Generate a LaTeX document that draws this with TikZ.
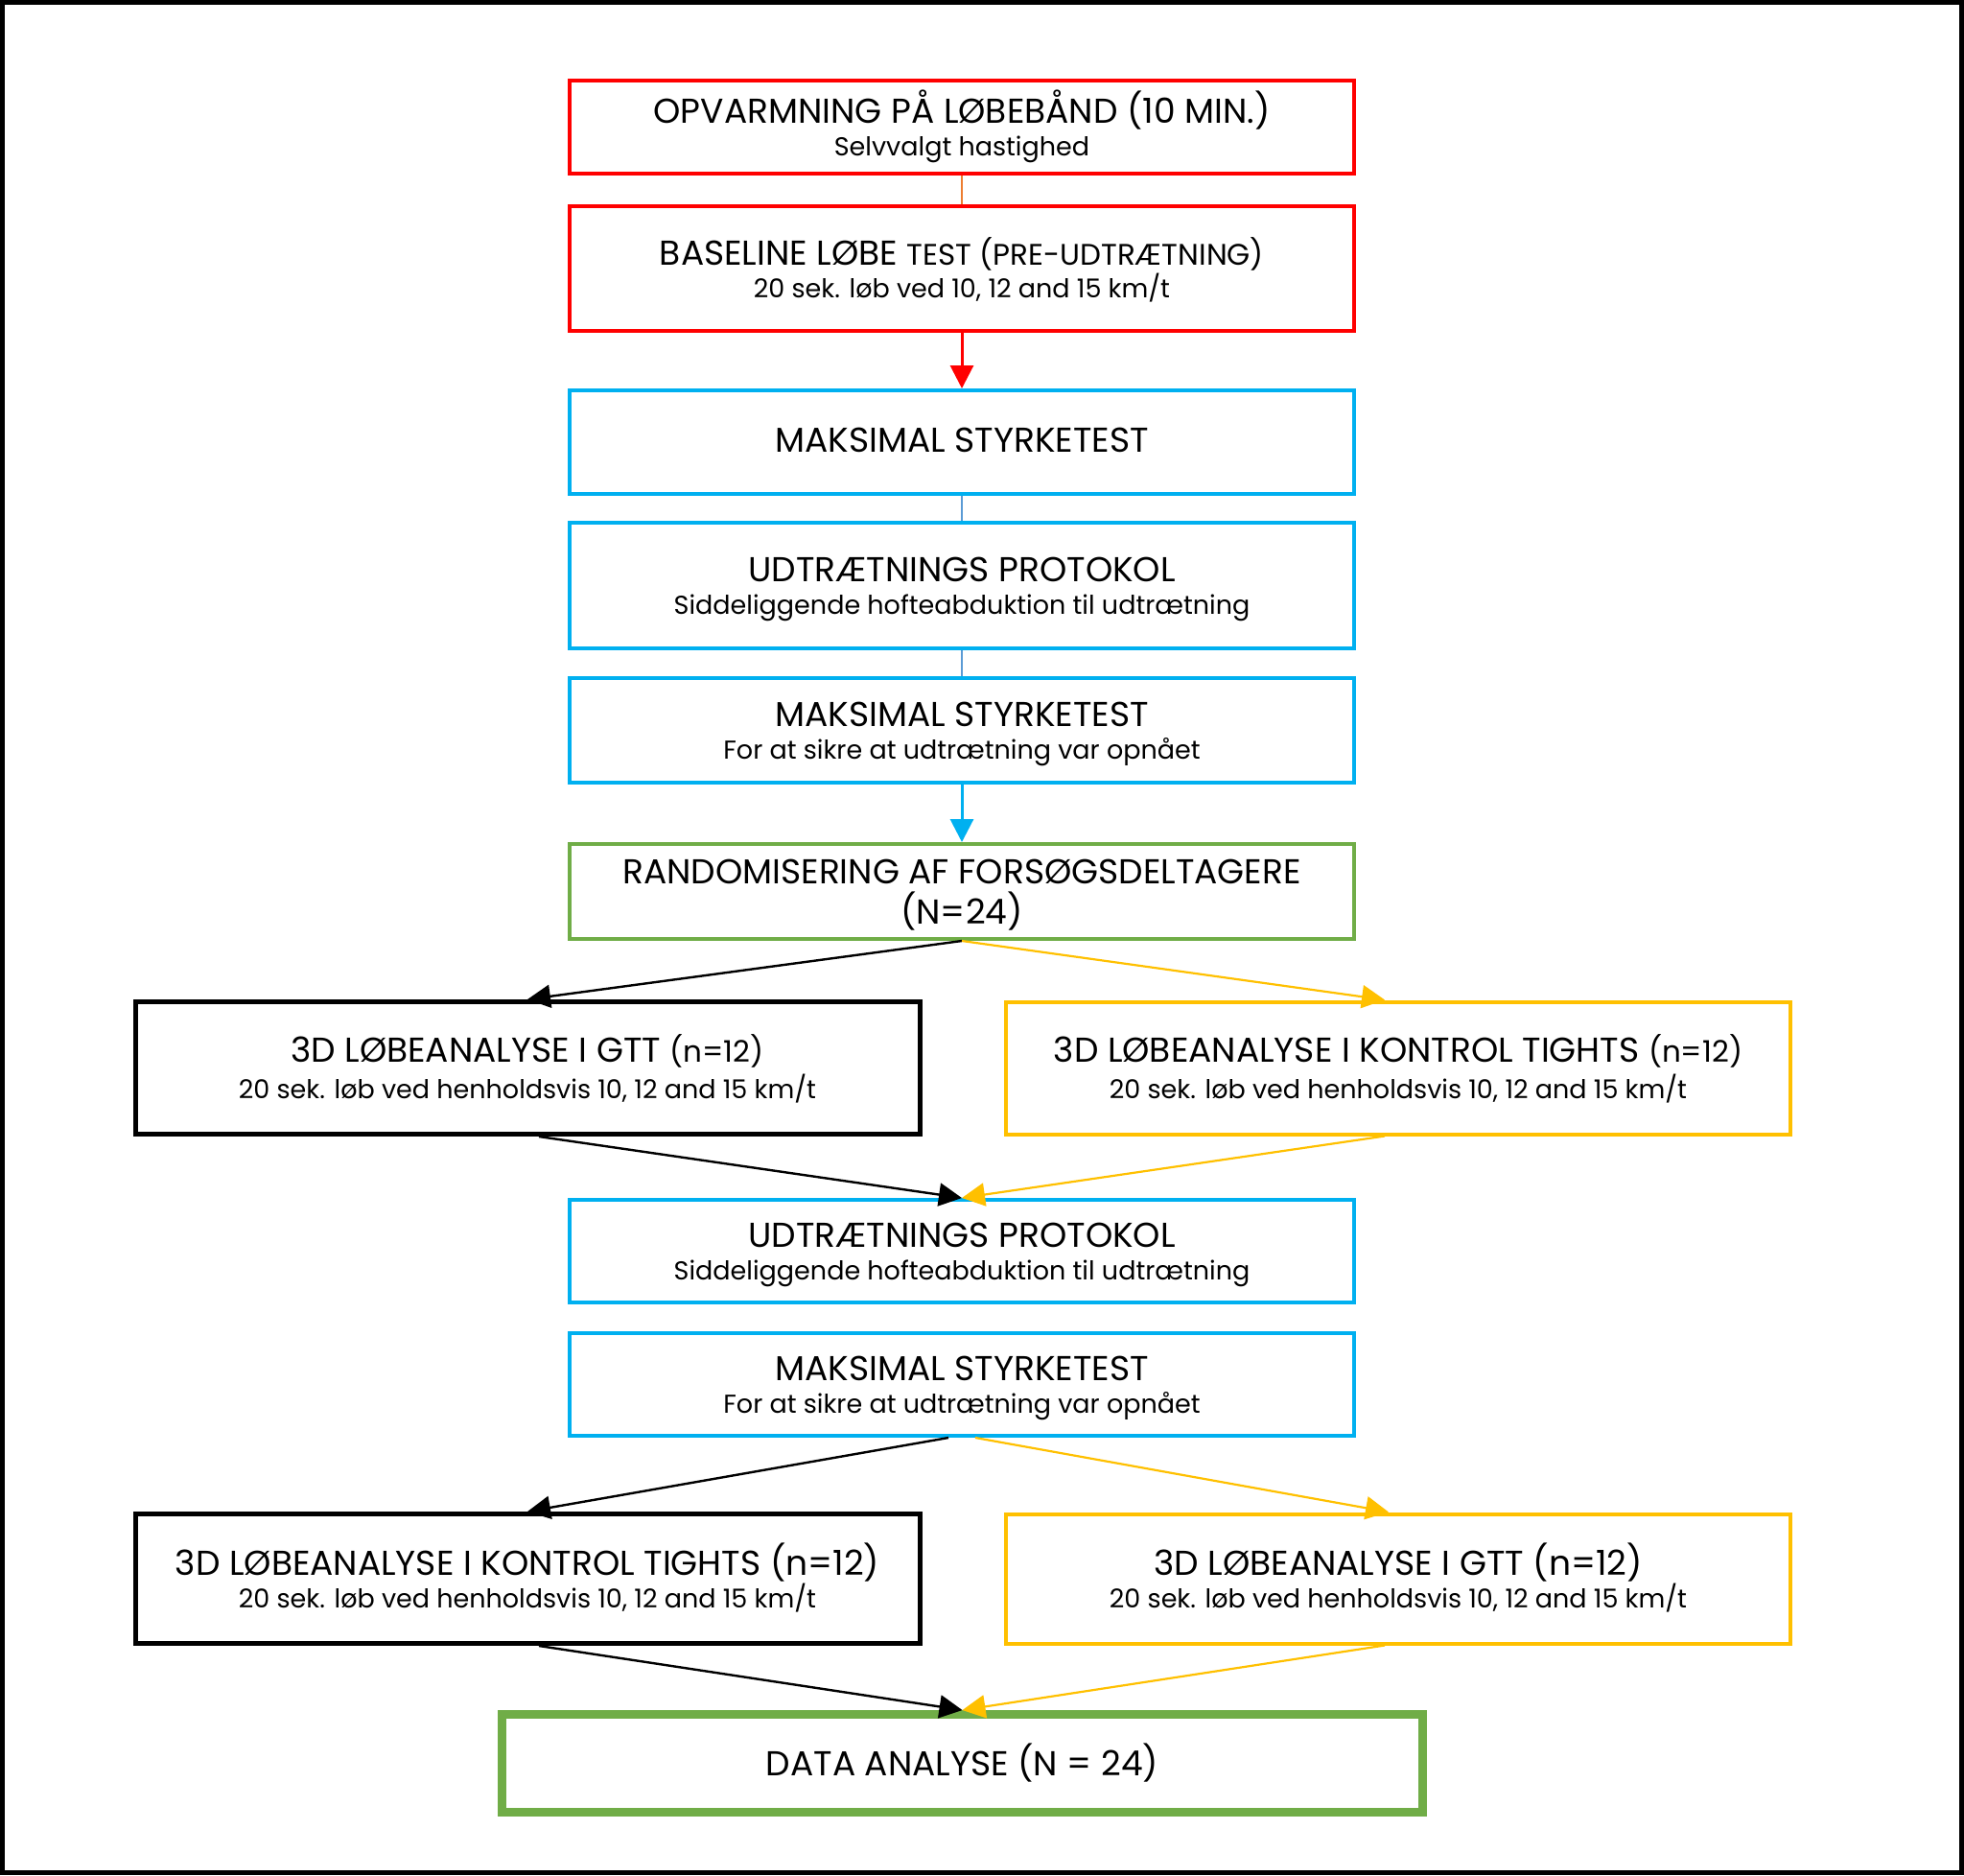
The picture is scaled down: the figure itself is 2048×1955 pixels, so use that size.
\documentclass[tikz,border=0pt]{standalone}
\usepackage{fontspec}
\setmainfont{Poppins}
\usetikzlibrary{arrows.meta,positioning}
\definecolor{flRed}{HTML}{FF0000}
\definecolor{flBlue}{HTML}{00B0F0}
\definecolor{flSteel}{HTML}{5B9BD5}
\definecolor{flOrange}{HTML}{ED7D31}
\definecolor{flGreen}{HTML}{70AD47}
\definecolor{flGold}{HTML}{FFC000}
\newcommand{\subline}{\fontsize{13.5}{15}\selectfont}
\newcommand{\minorcaps}{\fontsize{15.5}{17}\selectfont}
\tikzset{
 flow/.style={x=.5pt,y=-.5pt,font=\fontsize{18}{17}\selectfont},
 stepbox/.style={rectangle,draw,fill=white,align=center,inner sep=0pt,minimum width=409pt,
   line width=2pt,text height=30pt,text depth=0pt},
 oneline/.style={text height=10.6pt},
 redbox/.style={stepbox,draw=flRed},
 bluebox/.style={stepbox,draw=flBlue},
 greenbox/.style={stepbox,draw=flGreen},
 blackbox/.style={stepbox,draw=black,line width=2.5pt},
 goldbox/.style={stepbox,draw=flGold},
 tip/.style={-{Triangle[length=12pt,width=12pt]}},
 linkline/.style={line width=.8pt},
 blackarrow/.style={tip,draw=black,line width=1.2pt},
 goldarrow/.style={tip,draw=flGold,line width=1.1pt}
}

\begin{document}
\begin{tikzpicture}[flow]
 \useasboundingbox (0,0) rectangle (2048,1955);
 \draw[line width=2.5pt] (2.5,2.5) rectangle (2045.5,1952.5);
 \node[redbox,minimum height=48.5pt] (warmup) at (1003,132.5)
  {OPVARMNING PÅ LØBEBÅND (10 MIN.)\\{\subline Selvvalgt hastighed}};
 \node[redbox,minimum height=65pt] (baseline) at (1003,280)
  {BASELINE LØBE {\minorcaps TEST (PRE-UDTRÆTNING)}\\{\subline 20 sek. løb ved 10, 12 and 15 km/t}};
 \node[bluebox,oneline,minimum height=54pt] (maxA) at (1003,461) {MAKSIMAL STYRKETEST};
 \node[bluebox,minimum height=65.5pt] (protA) at (1003,610.5)
  {UDTRÆTNINGS PROTOKOL\\{\subline Siddeliggende hofteabduktion til udtrætning}};
 \node[bluebox,minimum height=54.5pt] (maxB) at (1003,761.5)
  {MAKSIMAL STYRKETEST\\{\subline For at sikre at udtrætning var opnået}};
 \node[greenbox,text height=34pt,minimum height=49.5pt] (random) at (1003,929.5)
  {RANDOMISERING AF FORSØGSDELTAGERE\\[4pt](N=24)};
 \node[blackbox,text height=32pt,minimum height=69pt] (gttA) at (550,1113.5)
  {3D LØBEANALYSE I GTT {\minorcaps (n=12)}\\[2pt]{\subline 20 sek. løb ved henholdsvis 10, 12 and 15 km/t}};
 \node[goldbox,text height=32pt,minimum height=69pt] (ctrlA) at (1458,1113.5)
  {3D LØBEANALYSE I KONTROL TIGHTS {\minorcaps (n=12)}\\[2pt]{\subline 20 sek. løb ved henholdsvis 10, 12 and 15 km/t}};
 \node[bluebox,minimum height=53.5pt] (protB) at (1003,1304.5)
  {UDTRÆTNINGS PROTOKOL\\{\subline Siddeliggende hofteabduktion til udtrætning}};
 \node[bluebox,minimum height=53.5pt] (maxC) at (1003,1443.5)
  {MAKSIMAL STYRKETEST\\{\subline For at sikre at udtrætning var opnået}};
 \node[blackbox,minimum height=67.5pt] (ctrlB) at (550,1646)
  {3D LØBEANALYSE I KONTROL TIGHTS (n=12)\\{\subline 20 sek. løb ved henholdsvis 10, 12 and 15 km/t}};
 \node[goldbox,minimum height=67.5pt] (gttB) at (1458,1646)
  {3D LØBEANALYSE I GTT (n=12)\\{\subline 20 sek. løb ved henholdsvis 10, 12 and 15 km/t}};
 \node[greenbox,oneline,text height=13.2pt,line width=4.5pt,minimum width=480pt,minimum height=51pt] (data) at (1003.5,1838.5)
  {DATA ANALYSE (N = 24)};
 \draw[linkline,flOrange] (warmup) -- (baseline);
 \draw[tip,flRed,line width=1.5pt] (baseline) -- (maxA);
 \draw[linkline,flSteel] (maxA) -- (protA);
 \draw[linkline,flSteel] (protA) -- (maxB);
 \draw[tip,flBlue,line width=1.5pt] (maxB) -- (random);
 \draw[blackarrow] (random.south) -- (gttA.north);
 \draw[goldarrow] (random.south) -- ([xshift=-7pt]ctrlA.north);
 \draw[blackarrow] ([xshift=6pt]gttA.south) -- (protB.north);
 \draw[goldarrow] ([xshift=-7pt]ctrlA.south) -- (protB.north);
 \draw[blackarrow] ([xshift=-7pt]maxC.south) -- (ctrlB.north);
 \draw[goldarrow] ([xshift=7pt]maxC.south) -- ([xshift=-5pt]gttB.north);
 \draw[blackarrow] ([xshift=6pt]ctrlB.south) -- (data.north);
 \draw[goldarrow] ([xshift=-7pt]gttB.south) -- (data.north);
\end{tikzpicture}
\end{document}
